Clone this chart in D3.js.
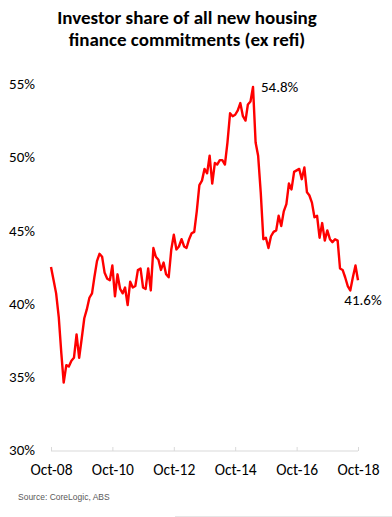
<!DOCTYPE html>
<html>
<head>
<meta charset="utf-8">
<script src="https://cdn.jsdelivr.net/npm/d3@7"></script>
<style>
  body { margin: 0; background: #fff; }
  svg { display: block; font-family: Calibri, Carlito, Lato, "Noto Sans", sans-serif; }
</style>
</head>
<body>
<svg id="chart"></svg>
<script>
// monthly investor share, Oct-08 .. Oct-18
const startMonth = new Date(2008, 9, 1);
const shareValues = [
  42.5, 41.6, 40.7, 39.1, 36.6, 34.6, 35.8, 35.7, 36.1, 36.3,
  37.9, 36.3, 37.6, 39.0, 39.6, 40.4, 40.7, 41.8, 42.9, 43.4,
  43.2, 42.1, 41.7, 41.6, 42.6, 40.5, 42.0, 41.0, 40.7, 41.1,
  39.9, 41.5, 41.1, 41.2, 42.3, 42.4, 41.1, 41.0, 42.4, 40.9,
  43.8, 43.2, 43.0, 42.3, 42.8, 42.0, 41.8, 43.7, 44.7, 43.7,
  43.9, 44.4, 43.9, 43.8, 44.4, 44.8, 44.9, 46.3, 48.1, 48.4,
  49.2, 48.9, 50.1, 48.2, 49.6, 49.5, 49.8, 49.8, 49.5, 51.0,
  53.0, 52.8, 52.9, 53.2, 53.7, 52.8, 52.5, 53.6, 53.8, 54.8,
  51.0, 50.1, 47.6, 44.4, 44.5, 43.8, 44.6, 44.9, 45.0, 46.0,
  45.3, 46.3, 46.8, 48.2, 47.8, 49.0, 49.1, 49.2, 48.5, 49.3,
  47.6, 47.4, 46.9, 45.9, 46.0, 44.5, 45.5, 44.3, 45.0, 44.4,
  44.2, 44.4, 44.3, 42.4, 42.3, 41.8, 41.2, 40.9, 41.8, 42.6,
  41.6
];
const yTicks = [30, 35, 40, 45, 50, 55];
const xTickLabels = ["Oct-08", "Oct-10", "Oct-12", "Oct-14", "Oct-16", "Oct-18"];
const titleLines = ["Investor share of all new housing", "finance commitments (ex refi)"];

const width = 392, height = 517;
const svg = d3.select("#chart").attr("width", width).attr("height", height);

const data = shareValues.map((v, i) => ({ date: d3.timeMonth.offset(startMonth, i), value: v }));

const x = d3.scaleTime()
    .domain([startMonth, d3.timeMonth.offset(startMonth, 120)])
    .range([51, 358]);
const y = d3.scaleLinear().domain([30, 55]).range([450, 84]);

// title
svg.append("g").selectAll("text")
    .data(titleLines)
    .enter().append("text")
    .attr("x", 187)
    .attr("y", (d, i) => 24 + i * 22)
    .attr("text-anchor", "middle")
    .style("font-size", "19px")
    .style("font-weight", "bold")
    .attr("fill", "#000")
    .text(d => d);

// y labels (no axis line)
svg.append("g").selectAll("text")
    .data(yTicks)
    .enter().append("text")
    .attr("x", 35)
    .attr("y", d => y(d))
    .attr("dy", "0.35em")
    .attr("text-anchor", "end")
    .style("font-size", "15px")
    .attr("fill", "#000")
    .text(d => d + "%");

// x axis
const xTickDates = xTickLabels.map((d, i) => d3.timeYear.offset(startMonth, i * 2));
const xAxis = d3.axisBottom(x)
    .tickValues(xTickDates)
    .tickSize(-4)
    .tickPadding(13)
    .tickFormat((d, i) => xTickLabels[i]);

const gx = svg.append("g")
    .attr("transform", `translate(0,${y(30) + 1})`)
    .call(xAxis);
gx.select(".domain").attr("stroke", "#d9d9d9").attr("d", `M${x.range()[0]},0H${x.range()[1]}`);
gx.selectAll(".tick line").attr("stroke", "#d9d9d9");
gx.selectAll(".tick text")
    .attr("fill", "#000")
    .style("font-size", "15.5px")
    .style("font-family", "Calibri, Carlito, Lato, 'Noto Sans', sans-serif");

// line
const line = d3.line()
    .x(d => x(d.date))
    .y(d => y(d.value));

svg.append("path")
    .datum(data)
    .attr("fill", "none")
    .attr("stroke", "#ff0000")
    .attr("stroke-width", 2.4)
    .attr("stroke-linejoin", "round")
    .attr("d", line);

// annotations: peak and latest
const peak = data.reduce((a, b) => (b.value > a.value ? b : a));
const last = data[data.length - 1];

svg.append("text")
    .attr("x", x(peak.date) + 8)
    .attr("y", y(peak.value))
    .attr("dy", "0.35em")
    .style("font-size", "15px")
    .attr("fill", "#000")
    .text(peak.value.toFixed(1) + "%");

svg.append("text")
    .attr("x", x(last.date) + 5)
    .attr("y", y(last.value) + 20)
    .attr("dy", "0.35em")
    .attr("text-anchor", "middle")
    .style("font-size", "15px")
    .attr("fill", "#000")
    .text(last.value.toFixed(1) + "%");

// source
svg.append("text")
    .attr("x", 18)
    .attr("y", 500)
    .style("font-size", "8.5px")
    .style("font-family", "Arial, 'Liberation Sans', sans-serif")
    .attr("fill", "#595959")
    .text("Source:  CoreLogic, ABS");

// faint page edge at bottom right
svg.append("line")
    .attr("x1", 175).attr("x2", width)
    .attr("y1", 516.5).attr("y2", 516.5)
    .attr("stroke", "#e6e6e6");
</script>
</body>
</html>
